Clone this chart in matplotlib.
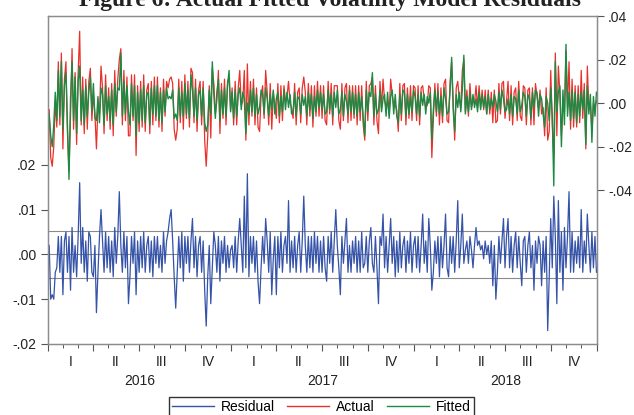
import numpy as np
import pandas as pd
import matplotlib
matplotlib.use('Agg')
import matplotlib.pyplot as plt
import matplotlib.dates as mdates
import matplotlib.transforms as mtransforms
from matplotlib.lines import Line2D

# values, in units of 1e-3 (actual = fitted + residual)
residual = [
    2, -10, -9, -10, -4, -3, 4, -4, 4, -9, 3, 5, -4, 4, -8, 6, -4, 2, -5, 4,
    16, -2, 6, -4, 3, -6, 5, 4, -4, -5, 2, -13, -4, 4, 10, 3, -4, 5, -3, 4,
    -4, 3, -5, 6, -2, 4, 14, 2, -4, 5, -3, 4, -11, -5, 4, -2, 5, -9, 3, -4,
    4, -3, 5, -4, 2, 4, -4, 3, -5, 4, -2, 4, -3, 2, -4, 5, -2, 3, 5, 8,
    10, 3, -5, -12, -4, 4, -3, 5, -6, 4, -2, 4, -4, 3, 8, -3, 4, -5, 2, 4,
    -4, 3, -8, -16, -5, 2, -11, -3, 5, 2, -4, 4, -6, 3, -2, 4, -4, 2, -3, 1,
    2, -3, 4, -4, 3, 8, 2, -4, 13, -3, 18, -5, 4, -2, 4, -4, 3, -6, -11, -3,
    4, -2, 8, 3, -4, 5, -9, -1, 4, -9, 4, -3, 5, -4, 2, 4, -2, 12, -4, 3,
    -3, 4, -4, 2, 5, -4, 3, 13, 2, -4, 4, -3, 4, -4, 5, -2, 4, -4, 3, -4,
    4, -3, -6, 4, -2, 5, -4, 3, 10, 2, -3, -9, 4, -2, 3, 8, -4, 2, -4, 3,
    -2, 4, -4, 3, -4, 5, -3, -2, 4, -4, 3, 6, -2, -4, 4, -3, -11, 4, 2, 9,
    -3, 4, -4, 2, 8, -2, 4, -5, 3, -4, 5, -3, 2, 4, -4, 3, -2, 5, -4, 2,
    4, -3, 4, -4, 2, 9, -2, 3, -4, 8, 2, -8, -4, 3, -2, 4, -5, 4, -3, 2,
    9, -3, -5, 4, -2, 4, -4, 3, 12, -3, 2, 9, -2, 1, 3, -2, 4, 1, -3, 2,
    6, 2, 3, 1, 2, -1, 3, 0, 2, -2, 3, -7, 2, -10, -4, 4, -2, 3, 8, -3,
    4, 8, -3, 4, -4, 2, 5, -3, 4, -2, -7, 3, 4, -4, 2, 5, -3, 2, -8, 3,
    -2, 4, 2, -7, 3, -4, 4, -17, -5, 8, -3, 13, 4, -11, 12, -4, 5, -8, 6, -3,
    4, 14, -4, 5, -4, 3, -2, 4, -3, 10, -4, 3, -2, 9, 2, -4, 5, -3, 4, -4,
]

fitted = [
    -5, -15, -20, -10, 5, -8, 15, -6, 19, -12, 8, 14, -10, -35, 2, 19, -8, 12, -14, 10,
    17, -8, 6, -10, 8, -6, 5, 12, -4, 9, -7, -8, 3, -9, 7, 4, -10, 8, -5, 3,
    -8, 6, -10, 9, -4, 7, 6, 23, -6, 10, -5, 8, -4, -10, 9, -6, 8, -15, 5, -9,
    6, -8, 8, -9, 4, 5, -10, 7, -5, 8, -6, 8, -8, 5, -9, 6, -4, 7, 2, 3,
    2, 6, -7, -5, -8, 7, -6, 5, -6, 9, -5, 6, -7, 13, 6, -6, 7, -8, 4, 6,
    -6, 7, -9, -13, -10, 6, -5, 19, 4, -7, 5, 11, -8, 6, -5, 7, -6, 8, 15, -4,
    5, -7, 6, -6, 4, 7, -3, 5, 2, -14, 0, -5, 6, -4, 7, -6, 4, -5, -2, 6,
    4, -5, 7, 2, -6, 4, -3, 6, -5, 2, 5, -6, 3, -4, 6, -3, 5, -2, 4, -5,
    -4, 5, -6, 3, 2, -5, 4, -1, 3, -6, 5, -3, 4, -7, 3, -4, 6, -2, 5, -3,
    4, -5, -4, 6, -3, 4, -6, 5, -2, 6, -5, -3, 5, -6, 4, 1, -5, 6, -4, 5,
    -5, 4, -6, 5, -4, 3, -7, -15, 6, -4, 5, 3, 14, -6, 4, -5, -3, 6, -4, 2,
    4, -6, 5, -7, 3, 6, -5, 4, -6, -9, 4, -5, 6, 5, -6, 4, -5, 3, -4, 6,
    3, -5, 4, -6, 5, -1, 4, -5, 3, 0, 5, -17, -3, 6, -4, 5, -5, 3, -6, 7,
    2, -5, -4, 6, 21, -3, -13, 4, -2, 5, -4, 6, 22, -5, 3, -4, 5, -3, 4, -2,
    2, -4, 5, -3, 4, -2, 3, -5, 4, -3, 2, -2, 4, 1, -4, 5, -3, 6, 2, -4,
    -3, 2, -5, 4, -6, 3, 2, -5, 6, -4, -1, 5, 3, -6, 4, 2, -7, 5, -2, 6,
    5, -6, 4, 2, -5, -11, 3, 0, -8, 7, -6, -38, 19, -4, 5, 8, -20, 6, -10, 27,
    -6, 5, -8, 6, -7, 5, -9, 4, -6, 5, -3, 6, -19, 8, -5, 4, -18, 3, -6, 5,
]

years = [2016, 2017, 2018]
quarter_labels = ['I', 'II', 'III', 'IV']
series_names = ['Residual', 'Actual', 'Fitted']
title = 'Figure 6: Actual Fitted Volatility Model Residuals'

BLUE = '#3553a8'
RED = '#e8312b'
GREEN = '#1d8a43'
GREY = '#8a8a8a'


def fmt(v, pos=None):
    return f'{v:.2f}'.replace('0.', '.')


def main():
    plt.rcParams['font.family'] = ['Liberation Sans', 'DejaVu Sans']
    plt.rcParams['font.size'] = 10

    n = min(len(residual), len(fitted))
    resid = np.array(residual[:n]) / 1000.0
    fit = np.array(fitted[:n]) / 1000.0
    actual = fit + resid

    dates = pd.date_range('2016-01-04', '2018-12-31', periods=n)
    x = mdates.date2num(dates)

    fig = plt.figure(figsize=(6.34, 4.15), dpi=100)
    ax = fig.add_axes([0.0752, 0.1711, 0.8664, 0.7903])
    ax2 = ax.twinx()

    # residual panel with +/- one std bands
    sd = resid.std()
    for v in (-sd, 0.0, sd):
        ax.axhline(v, color=GREY, lw=0.8, zorder=1)
    ax.plot(x, resid, color=BLUE, lw=0.9, zorder=2)

    ax2.plot(x, actual, color=RED, lw=0.9)
    ax2.plot(x, fit, color=GREEN, lw=1.0)

    ax.set_ylim(-0.02, 0.0532)
    ax2.set_ylim(-0.1106, 0.04)
    ax.set_yticks([-0.02, -0.01, 0.0, 0.01, 0.02])
    ax2.set_yticks([-0.04, -0.02, 0.0, 0.02, 0.04])
    ax.yaxis.set_major_formatter(plt.FuncFormatter(fmt))
    ax2.yaxis.set_major_formatter(plt.FuncFormatter(fmt))

    start = mdates.date2num(pd.Timestamp('2016-01-01'))
    end = mdates.date2num(pd.Timestamp('2019-01-01'))
    ax.set_xlim(start, end)

    months = mdates.date2num(pd.date_range('2016-01-01', '2019-01-01', freq='MS'))
    quarters = mdates.date2num(pd.date_range('2016-01-01', '2019-01-01', freq='QS'))
    ax.set_xticks(quarters)
    ax.set_xticks(months, minor=True)
    ax.set_xticklabels([])
    ax.tick_params(axis='x', which='major', length=5, width=0.8, color='#555555')
    ax.tick_params(axis='x', which='minor', length=3, width=0.7, color='#555555')

    for a in (ax, ax2):
        for s in a.spines.values():
            s.set_color('#8c8c8c')
            s.set_linewidth(0.9)
        a.tick_params(axis='y', length=5, width=0.8, color='#555555',
                      labelcolor='#222222', labelsize=10, pad=3)

    trans = mtransforms.blended_transform_factory(ax.transData, ax.transAxes)
    for i, (q0, q1) in enumerate(zip(quarters[:-1], quarters[1:])):
        ax.text((q0 + q1) / 2, -0.056, quarter_labels[i % 4], transform=trans,
                ha='center', va='center', color='#222222', fontsize=10)
    for y in years:
        y0 = mdates.date2num(pd.Timestamp(y, 1, 1))
        y1 = mdates.date2num(pd.Timestamp(y + 1, 1, 1))
        ax.text((y0 + y1) / 2, -0.113, str(y), transform=trans,
                ha='center', va='center', color='#222222', fontsize=10)

    handles = [Line2D([], [], color=c, lw=1.0) for c in (BLUE, RED, GREEN)]
    fig.legend(handles, series_names, loc='upper center', ncol=3,
               bbox_to_anchor=(0.507, 1 - 397 / 415), borderaxespad=0,
               frameon=True, fancybox=False, edgecolor='#333333', framealpha=1,
               handlelength=3.0, handletextpad=0.5, columnspacing=0.9,
               borderpad=0.2, fontsize=10)

    fig.text(0.52, 1 - 6 / 415, title, ha='center', va='baseline',
             fontsize=17, fontweight='bold', family='Liberation Serif', color='#222222')

    fig.savefig('out.png', dpi=100)


if __name__ == '__main__':
    main()
